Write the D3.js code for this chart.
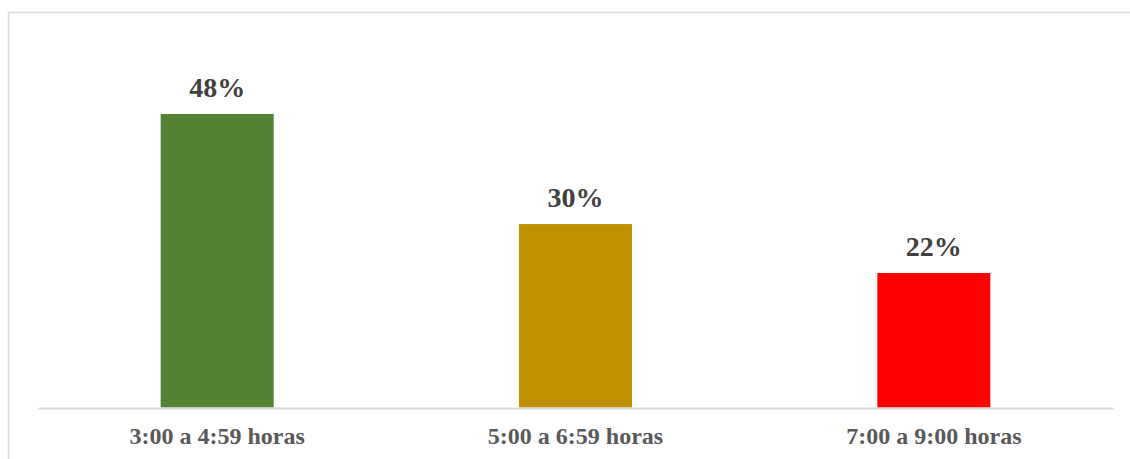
<!DOCTYPE html>
<html><head><meta charset="utf-8">
<script src="https://cdn.jsdelivr.net/npm/d3@7"></script>
<style>body{margin:0;background:#fff;}svg{display:block;}</style>
</head><body>
<script>
const categories = ["3:00 a 4:59 horas", "5:00 a 6:59 horas", "7:00 a 9:00 horas"];
const values = [48, 30, 22];
const valueLabels = ["48%", "30%", "22%"];
const colors = ["#548235", "#BF9000", "#FF0000"];

const W = 1130, H = 459;
const svg = d3.select("body").append("svg").attr("width", W).attr("height", H);

// chart border
svg.append("rect").attr("x", 8.5).attr("y", 12.5).attr("width", W).attr("height", H)
  .attr("fill", "none").attr("stroke", "#d9d9d9").attr("stroke-width", 1.5);

const x = d3.scaleBand().domain(categories).range([38, 1113]).paddingInner(0.6846).paddingOuter(0.3423);
const y = d3.scaleLinear().domain([0, 48]).range([407.5, 114]);

svg.selectAll("rect.bar").data(values).enter().append("rect").attr("class", "bar")
  .attr("x", (d, i) => x(categories[i]))
  .attr("width", x.bandwidth())
  .attr("y", d => y(d))
  .attr("height", d => y(0) - y(d))
  .attr("fill", (d, i) => colors[i]);

svg.selectAll("text.val").data(values).enter().append("text").attr("class", "val")
  .attr("x", (d, i) => x(categories[i]) + x.bandwidth() / 2)
  .attr("y", d => y(d) - 17)
  .attr("text-anchor", "middle")
  .attr("font-family", "'Liberation Serif', 'Times New Roman', serif")
  .attr("font-weight", "bold").attr("font-size", 28).attr("fill", "#404040")
  .text((d, i) => valueLabels[i]);

const axis = d3.axisBottom(x).tickSize(0).tickPadding(0);
const g = svg.append("g").attr("transform", "translate(0,408)").call(axis);
g.select(".domain").attr("stroke", "#d9d9d9").attr("stroke-width", 2);
g.selectAll("text").attr("dy", null).attr("y", 36)
  .attr("font-family", "'Liberation Serif', 'Times New Roman', serif")
  .attr("font-weight", "bold").attr("font-size", 24).attr("fill", "#595959");
</script>
</body></html>
